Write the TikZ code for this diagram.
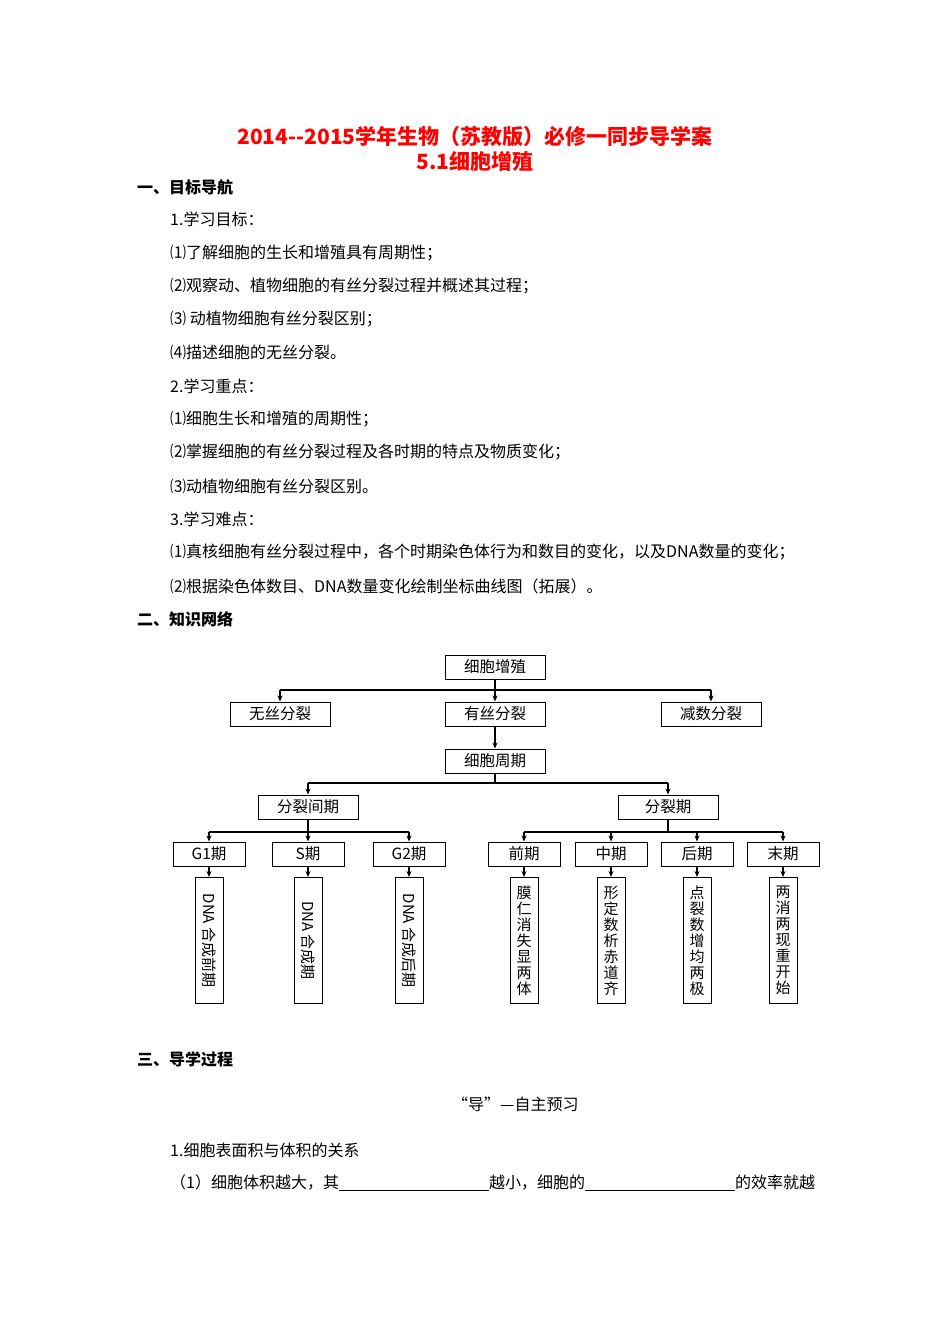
\documentclass[tikz,border=0pt]{standalone}
\usepackage{fontspec}
\setmainfont{Noto Sans CJK SC}
\usetikzlibrary{arrows.meta}
\begin{document}
\begin{tikzpicture}[x=1pt,y=-1pt,
  txt/.style={anchor=west,inner sep=0pt,font=\fontsize{16}{16}\selectfont},
  hd/.style={anchor=west,inner sep=0pt,font=\fontsize{16}{16}\selectfont\bfseries},
  bx/.style={draw,line width=1pt,minimum width=100pt,minimum height=24pt,inner sep=0pt,font=\fontsize{15.5}{15.5}\selectfont},
  sbx/.style={draw,line width=1pt,minimum width=72pt,minimum height=24pt,inner sep=0pt,font=\fontsize{15.5}{15.5}\selectfont},
  tbx/.style={draw,line width=1pt,minimum width=28pt,minimum height=126pt,inner sep=0pt,font=\fontsize{15}{16}\selectfont,anchor=north,align=center},
  vt/.style={rotate=-90,font=\fontsize{15}{15}\selectfont},
  ln/.style={line width=1.2pt},
  ar/.style={line width=1.2pt,-{Stealth[length=6pt,width=5pt]}}]
\useasboundingbox (0,0) rectangle (950,1344);
\fill[white] (0,0) rectangle (950,1344);
% title
\node[text=red,font=\fontsize{21}{21}\selectfont\bfseries] (t1) at (475,137) {2014{-}{-}2015学年生物（苏教版）必修一同步导学案};
\node[text=red,font=\fontsize{21}{21}\selectfont\bfseries] (t2) at (475,162) {5.1细胞增殖};
\node[hd] (h1) at (137,187) {一、目标导航};
\node[txt] (l1) at (170,219) {1.学习目标：};
\node[txt] (l2) at (170,253) {⑴了解细胞的生长和增殖具有周期性；};
\node[txt] (l3) at (170,286) {⑵观察动、植物细胞的有丝分裂过程并概述其过程；};
\node[txt] (l4) at (170,319) {⑶ 动植物细胞有丝分裂区别；};
\node[txt] (l5) at (170,352) {⑷描述细胞的无丝分裂。};
\node[txt] (l6) at (170,386) {2.学习重点：};
\node[txt] (l7) at (170,419) {⑴细胞生长和增殖的周期性；};
\node[txt] (l8) at (170,452) {⑵掌握细胞的有丝分裂过程及各时期的特点及物质变化；};
\node[txt] (l9) at (170,486) {⑶动植物细胞有丝分裂区别。};
\node[txt] (l10) at (170,519) {3.学习难点：};
\node[txt] (l11) at (170,552) {⑴真核细胞有丝分裂过程中，各个时期染色体行为和数目的变化，以及DNA数量的变化；};
\node[txt] (l12) at (170,586) {⑵根据染色体数目、DNA数量变化绘制坐标曲线图（拓展）。};
\node[hd] (h2) at (137,619) {二、知识网络};
% diagram
\node[bx] (zz) at (495,667) {细胞增殖};
\node[bx] (ws) at (280,714) {无丝分裂};
\node[bx] (ys) at (495,714) {有丝分裂};
\node[bx] (js) at (711,714) {减数分裂};
\node[bx] (zq) at (495,761) {细胞周期};
\node[bx] (jq) at (308,807) {分裂间期};
\node[bx] (fl) at (668,807) {分裂期};
\node[sbx] (g1) at (209,854) {G1期};
\node[sbx] (s) at (308,854) {S期};
\node[sbx] (g2) at (409,854) {G2期};
\node[sbx] (qq) at (524,854) {前期};
\node[sbx] (zh) at (611,854) {中期};
\node[sbx] (hq) at (697,854) {后期};
\node[sbx] (mq) at (783,854) {末期};
\node[tbx] (d1) at (209,877) {};
\node[vt] at (d1.center) {DNA 合成前期};
\node[tbx] (d2) at (308,877) {};
\node[vt] at (d2.center) {DNA 合成期};
\node[tbx] (d3) at (409,877) {};
\node[vt] at (d3.center) {DNA 合成后期};
\node[tbx] (d4) at (524,877) {膜\\仁\\消\\失\\显\\两\\体};
\node[tbx] (d5) at (611,877) {形\\定\\数\\析\\赤\\道\\齐};
\node[tbx] (d6) at (697,877) {点\\裂\\数\\增\\均\\两\\极};
\node[tbx] (d7) at (783,877) {两\\消\\两\\现\\重\\开\\始};
\coordinate (b1) at (495,690);
\draw[ln] (zz.south) -- (b1);
\draw[ln] (ws.north|-b1) -- (js.north|-b1);
\draw[ar] (ws.north|-b1) -- (ws.north);
\draw[ar] (b1) -- (ys.north);
\draw[ar] (js.north|-b1) -- (js.north);
\draw[ar] (ys.south) -- (zq.north);
\coordinate (b2) at (495,783);
\draw[ln] (zq.south) -- (b2);
\draw[ln] (jq.north|-b2) -- (fl.north|-b2);
\draw[ar] (jq.north|-b2) -- (jq.north);
\draw[ar] (fl.north|-b2) -- (fl.north);
\coordinate (b3) at (308,832);
\draw[ln] (jq.south) -- (b3);
\draw[ln] (g1.north|-b3) -- (g2.north|-b3);
\foreach \n in {g1,s,g2} \draw[ar] (\n.north|-b3) -- (\n.north);
\coordinate (b4) at (668,832);
\draw[ln] (fl.south) -- (b4);
\draw[ln] (qq.north|-b4) -- (mq.north|-b4);
\foreach \n in {qq,zh,hq,mq} \draw[ar] (\n.north|-b4) -- (\n.north);
\foreach \a/\b in {g1/d1,s/d2,g2/d3,qq/d4,zh/d5,hq/d6,mq/d7} \draw[ar] (\a.south) -- (\b.north);
% bottom
\node[hd] (h3) at (137,1059) {三、导学过程};
\node[txt] (p0) at (452,1104) {“导”—自主预习};
\node[txt] (p1) at (170,1150) {1.细胞表面积与体积的关系};
\node[txt] (p2) at (170,1183) {（1）细胞体积越大，其\underline{\hspace{150pt}}越小，细胞的\underline{\hspace{150pt}}的效率就越};
\end{tikzpicture}
\end{document}
